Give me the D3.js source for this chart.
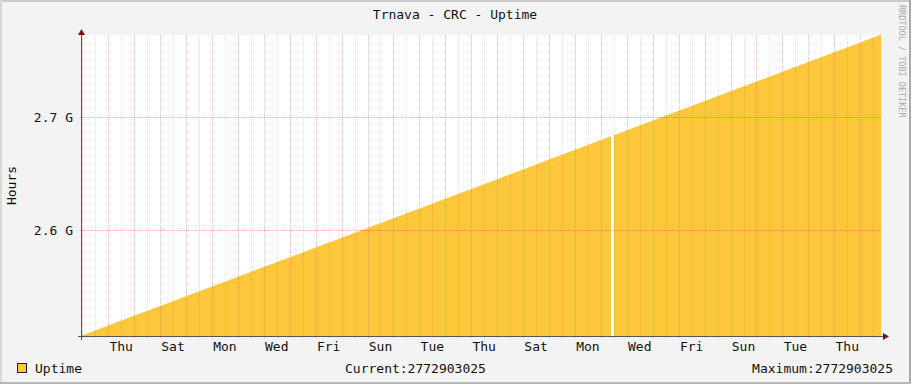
<!DOCTYPE html>
<html>
<head>
<meta charset="utf-8">
<script src="https://cdn.jsdelivr.net/npm/d3@7"></script>
<style>
  body { margin: 0; background: #f3f3f3; }
  text { font-family: "DejaVu Sans Mono", monospace; }
</style>
</head>
<body>
<svg id="chart"></svg>
<script>
// uptime samples (sysUpTime ticks)
var sampleTimes = [
    "2023-10-31T22:48Z", "2023-11-01T00:00Z", "2023-11-02T00:00Z", "2023-11-03T00:00Z",
    "2023-11-04T00:00Z", "2023-11-05T00:00Z", "2023-11-06T00:00Z", "2023-11-07T00:00Z",
    "2023-11-08T00:00Z", "2023-11-09T00:00Z", "2023-11-10T00:00Z", "2023-11-11T00:00Z",
    "2023-11-12T00:00Z", "2023-11-13T00:00Z", "2023-11-14T00:00Z", "2023-11-15T00:00Z",
    "2023-11-16T00:00Z", "2023-11-17T00:00Z", "2023-11-18T00:00Z", "2023-11-19T00:00Z",
    "2023-11-20T00:00Z", "2023-11-21T00:00Z", "2023-11-21T09:20Z", "2023-11-21T10:40Z",
    "2023-11-21T12:00Z", "2023-11-22T00:00Z", "2023-11-23T00:00Z", "2023-11-24T00:00Z",
    "2023-11-25T00:00Z", "2023-11-26T00:00Z", "2023-11-27T00:00Z", "2023-11-28T00:00Z",
    "2023-11-29T00:00Z", "2023-11-30T00:00Z", "2023-12-01T00:00Z", "2023-12-01T19:15Z"
];
var uptimeValues = [
    2506340000, 2506770000, 2515410000, 2524050000,
    2532690000, 2541330000, 2549970000, 2558610000,
    2567250000, 2575890000, 2584530000, 2593170000,
    2601810000, 2610450000, 2619090000, 2627730000,
    2636370000, 2645010000, 2653650000, 2662290000,
    2670930000, 2679570000, 2682930000, null,
    2683890000, 2688210000, 2696850000, 2705490000,
    2714130000, 2722770000, 2731410000, 2740050000,
    2748690000, 2757330000, 2765970000, 2772903025
];

var yTicks = [2.6e9, 2.7e9];
var yTickLabels = ["2.6 G", "2.7 G"];
var dayLabels = ["Thu", "Sat", "Mon", "Wed", "Fri", "Sun", "Tue", "Thu",
                 "Sat", "Mon", "Wed", "Fri", "Sun", "Tue", "Thu"];
var firstLabelDay = "2023-11-02T00:00Z";

var currentValue = "2772903025";
var maximumValue = "2772903025";

var W = 911, H = 384;
var plotLeft = 81, plotRight = 881, plotTop = 35, plotBottom = 336;

var data = sampleTimes.map(function (t, i) {
    return { t: new Date(t), v: uptimeValues[i] };
});

var x = d3.scaleUtc()
    .domain([data[0].t, data[data.length - 1].t])
    .range([plotLeft, plotRight]);

var y = d3.scaleLinear()
    .domain([2506190000, 2772570000])
    .range([plotBottom, plotTop]);

var svg = d3.select("#chart")
    .attr("width", W)
    .attr("height", H)
    .style("display", "block");

// background + 3d border
svg.append("rect").attr("width", W).attr("height", H).attr("fill", "#f3f3f3");
svg.append("rect").attr("x", 0).attr("y", 0).attr("width", W).attr("height", 2).attr("fill", "#cbcbcb");
svg.append("rect").attr("x", 0).attr("y", 0).attr("width", 2).attr("height", H).attr("fill", "#d8d8d8");
svg.append("rect").attr("x", W - 2).attr("y", 0).attr("width", 2).attr("height", H).attr("fill", "#a8a8a8");
svg.append("rect").attr("x", 0).attr("y", H - 2).attr("width", W).attr("height", 2).attr("fill", "#b8b8b8");

// canvas
svg.append("rect")
    .attr("x", plotLeft).attr("y", plotTop)
    .attr("width", plotRight - plotLeft).attr("height", plotBottom - plotTop)
    .attr("fill", "#ffffff");

// the area
var area = d3.area()
    .defined(d => d.v !== null)
    .x(d => x(d.t))
    .y0(plotBottom)
    .y1(d => y(d.v));

svg.append("path")
    .datum(data)
    .attr("d", area)
    .attr("fill", "#ffc73b");

// grid
var grid = svg.append("g").attr("shape-rendering", "crispEdges");

var halfDays = d3.utcHour.every(12).range(x.domain()[0], x.domain()[1]);
halfDays.forEach(function (t) {
    var major = t.getUTCHours() === 0;
    var px = Math.round(x(t)) + 0.5;
    grid.append("line")
        .attr("x1", px).attr("x2", px)
        .attr("y1", plotTop).attr("y2", plotBottom + 2)
        .attr("stroke", major ? "rgba(245,70,70,0.38)" : "rgba(0,0,0,0.12)")
        .attr("stroke-dasharray", "1,1");
});

yTicks.forEach(function (v) {
    var py = Math.round(y(v)) + 0.5;
    grid.append("line")
        .attr("x1", plotLeft - 3).attr("x2", plotRight)
        .attr("y1", py).attr("y2", py)
        .attr("stroke", "rgba(245,70,70,0.38)")
        .attr("stroke-dasharray", "1,1");
});

// axes
grid.append("line")
    .attr("x1", plotLeft + 0.5).attr("x2", plotLeft + 0.5)
    .attr("y1", plotBottom + 4).attr("y2", plotTop - 3)
    .attr("stroke", "#555");
grid.append("line")
    .attr("x1", plotLeft - 3).attr("x2", plotRight + 3)
    .attr("y1", plotBottom + 0.5).attr("y2", plotBottom + 0.5)
    .attr("stroke", "#555");

svg.append("path")
    .attr("d", "M" + (plotLeft + 0.5) + "," + (plotTop - 6) + " l3.5,6 l-7,0 z")
    .attr("fill", "#7f1010");
svg.append("path")
    .attr("d", "M" + (plotRight + 8) + "," + (plotBottom + 0.5) + " l-6,-3.5 l0,7 z")
    .attr("fill", "#7f1010");

// y labels
svg.selectAll(".ylab")
    .data(yTicks)
    .enter()
    .append("text")
    .attr("x", 73)
    .attr("y", d => y(d) + 5)
    .attr("text-anchor", "end")
    .attr("font-size", 13)
    .attr("fill", "#111")
    .text((d, i) => yTickLabels[i]);

// x labels, centered on noon
var day0 = new Date(firstLabelDay);
svg.selectAll(".xlab")
    .data(dayLabels)
    .enter()
    .append("text")
    .attr("x", (d, i) => x(d3.utcHour.offset(d3.utcDay.offset(day0, 2 * i), 12)))
    .attr("y", 351)
    .attr("text-anchor", "middle")
    .attr("font-size", 13)
    .attr("fill", "#111")
    .text(d => d);

// title
svg.append("text")
    .attr("x", 455).attr("y", 19)
    .attr("text-anchor", "middle")
    .attr("font-size", 13)
    .attr("fill", "#111")
    .text("Trnava - CRC - Uptime");

// vertical label
svg.append("text")
    .attr("transform", "translate(16," + ((plotTop + plotBottom) / 2) + ") rotate(-90)")
    .attr("text-anchor", "middle")
    .attr("font-size", 13)
    .attr("fill", "#111")
    .text("Hours");

// watermark
svg.append("text")
    .attr("transform", "translate(899,5) rotate(90)")
    .attr("font-size", 8.5)
    .attr("fill", "#aaa")
    .text("RRDTOOL / TOBI OETIKER");

// legend
svg.append("rect")
    .attr("x", 17.5).attr("y", 363.5)
    .attr("width", 9).attr("height", 9)
    .attr("fill", "#ffc73b")
    .attr("stroke", "#222");
svg.append("text")
    .attr("x", 35).attr("y", 372.5)
    .attr("font-size", 13)
    .attr("fill", "#111")
    .text("Uptime");
svg.append("text")
    .attr("x", 345).attr("y", 372.5)
    .attr("font-size", 13)
    .attr("fill", "#111")
    .text("Current:" + currentValue);
svg.append("text")
    .attr("x", 893).attr("y", 372.5)
    .attr("text-anchor", "end")
    .attr("font-size", 13)
    .attr("fill", "#111")
    .text("Maximum:" + maximumValue);
</script>
</body>
</html>
